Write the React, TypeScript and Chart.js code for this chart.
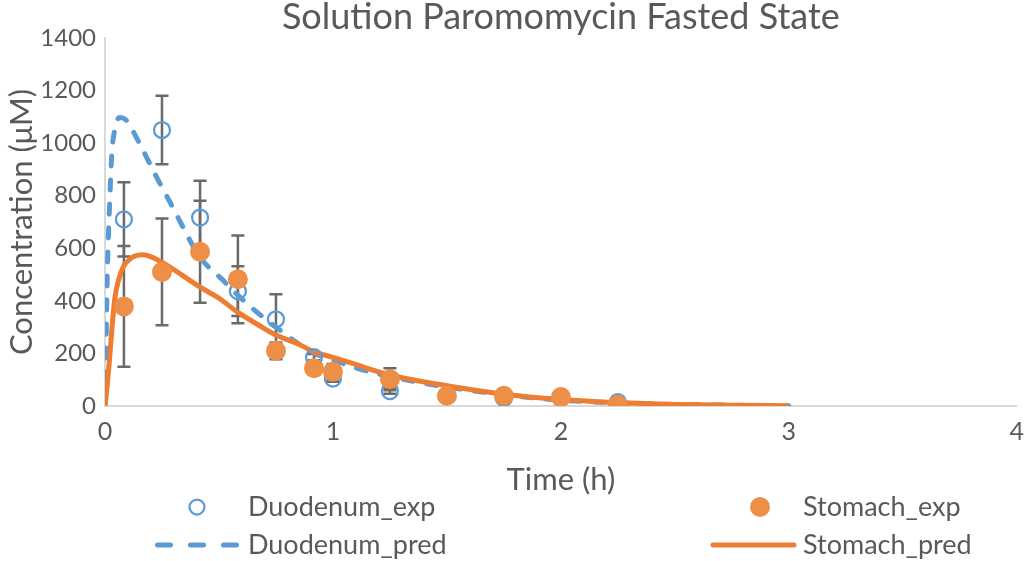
import React, { useEffect, useRef } from "react";
import { Chart, registerables } from "chart.js";

Chart.register(...registerables);

const TITLE = "Solution Paromomycin Fasted State";
const X_TITLE = "Time (h)";
const Y_TITLE = "Concentration (μM)";
const X_TICKS = [0, 1, 2, 3, 4];
const Y_TICKS = [0, 200, 400, 600, 800, 1000, 1200, 1400];

// Experimental sampling times (h)
const expTimes = [0.083, 0.25, 0.417, 0.583, 0.75, 0.917, 1.0, 1.25, 1.5, 1.75, 2.0, 2.25];
const duodenumExp = [710, 1050, 717, 437, 330, 186, 104, 57, 39, 30, 34, 15];
const duodenumErr = [141, 130, 140, 95, 95, 12, 12, 10, 0, 4, 0, 0];
const stomachExp = [379, 510, 587, 482, 210, 144, 130, 102, 39, 39, 34, 5];
const stomachErr = [230, 203, 194, 167, 32, 15, 30, 42, 0, 0, 0, 0];

// Predicted profiles
const duodenumPredT = [0, 0.005, 0.01, 0.02, 0.03, 0.045, 0.065, 0.09, 0.12, 0.166, 0.225, 0.283, 0.34, 0.414, 0.516, 0.585, 0.69, 0.75, 0.835, 0.917, 1.0, 1.1, 1.25, 1.5, 1.75, 2.0, 2.25, 2.5, 2.75, 3.0];
const duodenumPredY = [0, 250, 500, 760, 960, 1060, 1098, 1090, 1050, 974, 873, 779, 684, 569, 480, 420, 340, 300, 245, 201, 176, 145, 112, 72, 43, 22, 12, 6, 3, 1];
const stomachPredT = [0, 0.01, 0.02, 0.03, 0.044, 0.06, 0.08, 0.11, 0.14, 0.167, 0.2, 0.247, 0.3, 0.414, 0.5, 0.585, 0.67, 0.75, 0.85, 0.917, 1.0, 1.1, 1.25, 1.5, 1.75, 2.0, 2.25, 2.5, 2.75, 3.0];
const stomachPredY = [0, 80, 180, 290, 415, 480, 529, 560, 573, 575, 568, 548, 520, 454, 410, 355, 310, 270, 235, 206, 185, 158, 118, 77, 45, 25, 13, 6, 3, 1];

const BLUE = "#5B9BD5";
const ORANGE = "#ED7D31";
const DOT_ORANGE = "#EE8F47";
const TEXT = "#595959";
const AXIS = "#D9D9D9";
const FONT = "Lato, 'Liberation Sans', sans-serif";

const pts = (xs: number[], ys: number[]) => xs.map((x, i) => ({ x, y: ys[i] }));

const errorBarPlugin = {
  id: "errorBars",
  beforeDatasetsDraw(chart: any) {
    const { ctx, scales } = chart;
    const xs = scales.x;
    const ys = scales.y;
    const sets = [
      { v: duodenumExp, e: duodenumErr },
      { v: stomachExp, e: stomachErr },
    ];
    ctx.save();
    ctx.strokeStyle = "#6A6A6A";
    ctx.lineWidth = 2.5;
    for (const s of sets) {
      s.v.forEach((v, i) => {
        const e = s.e[i];
        if (!e) return;
        const px = xs.getPixelForValue(expTimes[i]);
        const top = ys.getPixelForValue(v + e);
        const bot = ys.getPixelForValue(Math.max(0, v - e));
        ctx.beginPath();
        ctx.moveTo(px, top);
        ctx.lineTo(px, bot);
        ctx.moveTo(px - 6.5, top);
        ctx.lineTo(px + 6.5, top);
        ctx.moveTo(px - 6.5, bot);
        ctx.lineTo(px + 6.5, bot);
        ctx.stroke();
      });
    }
    ctx.restore();
  },
};

const decorPlugin = {
  id: "decor",
  afterDraw(chart: any) {
    const { ctx, chartArea } = chart;
    ctx.save();
    ctx.fillStyle = TEXT;
    ctx.textBaseline = "alphabetic";
    ctx.textAlign = "center";
    ctx.font = `36px ${FONT}`;
    ctx.fillText(TITLE, (chartArea.left + chartArea.right) / 2, 29);

    ctx.textBaseline = "middle";
    ctx.textAlign = "left";
    ctx.font = `27px ${FONT}`;
    const row1 = 507;
    const row2 = 545;
    // Duodenum_exp
    ctx.beginPath();
    ctx.strokeStyle = BLUE;
    ctx.lineWidth = 2.25;
    ctx.arc(197, row1, 7.5, 0, Math.PI * 2);
    ctx.stroke();
    ctx.fillText("Duodenum_exp", 248, row1);
    // Duodenum_pred
    ctx.beginPath();
    ctx.lineWidth = 5;
    ctx.lineCap = "round";
    ctx.setLineDash([13, 20]);
    ctx.moveTo(157.5, row2);
    ctx.lineTo(238, row2);
    ctx.stroke();
    ctx.setLineDash([]);
    ctx.fillText("Duodenum_pred", 248, row2);
    // Stomach_exp
    ctx.beginPath();
    ctx.fillStyle = DOT_ORANGE;
    ctx.arc(760, row1, 10, 0, Math.PI * 2);
    ctx.fill();
    ctx.fillStyle = TEXT;
    ctx.fillText("Stomach_exp", 803, row1);
    // Stomach_pred
    ctx.beginPath();
    ctx.strokeStyle = ORANGE;
    ctx.lineWidth = 5;
    ctx.moveTo(713, row2);
    ctx.lineTo(794, row2);
    ctx.stroke();
    ctx.fillText("Stomach_pred", 803, row2);
    ctx.restore();
  },
};

export default function App() {
  const ref = useRef<HTMLCanvasElement | null>(null);
  useEffect(() => {
    if (!ref.current) return;
    const chart = new Chart(ref.current, {
      type: "scatter",
      data: {
        datasets: [
          {
            label: "Stomach_exp",
            data: pts(expTimes, stomachExp),
            order: 0,
            pointRadius: 10,
            pointBackgroundColor: DOT_ORANGE,
            pointBorderColor: DOT_ORANGE,
            pointBorderWidth: 0,
            showLine: false,
          },
          {
            label: "Duodenum_exp",
            data: pts(expTimes, duodenumExp),
            order: 1,
            pointRadius: 8,
            pointBackgroundColor: "rgba(0,0,0,0)",
            pointBorderColor: BLUE,
            pointBorderWidth: 2.25,
            showLine: false,
          },
          {
            label: "Stomach_pred",
            data: pts(stomachPredT, stomachPredY),
            order: 2,
            showLine: true,
            borderColor: ORANGE,
            borderWidth: 5,
            pointRadius: 0,
            cubicInterpolationMode: "monotone",
          },
          {
            label: "Duodenum_pred",
            data: pts(duodenumPredT, duodenumPredY),
            order: 3,
            showLine: true,
            borderColor: BLUE,
            borderWidth: 5,
            borderDash: [10, 14],
            borderCapStyle: "round",
            pointRadius: 0,
            cubicInterpolationMode: "monotone",
          },
        ],
      },
      options: {
        responsive: true,
        maintainAspectRatio: false,
        animation: false,
        layout: { padding: { left: 0, right: 9, top: 38, bottom: 0 } },
        plugins: {
          legend: { display: false },
          title: { display: false },
          tooltip: { enabled: false },
        },
        scales: {
          x: {
            type: "linear",
            min: 0,
            max: 4,
            afterBuildTicks: (s: any) => {
              s.ticks = X_TICKS.map((v) => ({ value: v }));
            },
            afterFit: (s: any) => {
              s.height = 155;
            },
            grid: { display: false, drawTicks: false },
            border: { display: true, color: AXIS, width: 2 },
            ticks: {
              color: TEXT,
              font: { family: FONT, size: 25 },
              padding: 11,
              callback: (v: any) => String(v),
            },
            title: {
              display: true,
              text: X_TITLE,
              color: TEXT,
              font: { family: FONT, size: 31 },
              padding: { top: 0, bottom: 62 },
            },
          },
          y: {
            type: "linear",
            min: 0,
            max: 1400,
            afterBuildTicks: (s: any) => {
              s.ticks = Y_TICKS.map((v) => ({ value: v }));
            },
            afterFit: (s: any) => {
              s.width = 105;
            },
            grid: { display: false, drawTicks: false },
            border: { display: true, color: AXIS, width: 2 },
            ticks: {
              color: TEXT,
              font: { family: FONT, size: 24 },
              padding: 9,
              callback: (v: any) => String(v),
            },
            title: {
              display: true,
              text: Y_TITLE,
              color: TEXT,
              font: { family: FONT, size: 31 },
              padding: { top: 3, bottom: 0 },
            },
          },
        },
      },
      plugins: [errorBarPlugin, decorPlugin],
    } as any);
    return () => chart.destroy();
  }, []);
  return (
    <div style={{ position: "fixed", left: 0, top: 0, width: 1035, height: 561, background: "#fff" }}>
      <canvas ref={ref} />
    </div>
  );
}
